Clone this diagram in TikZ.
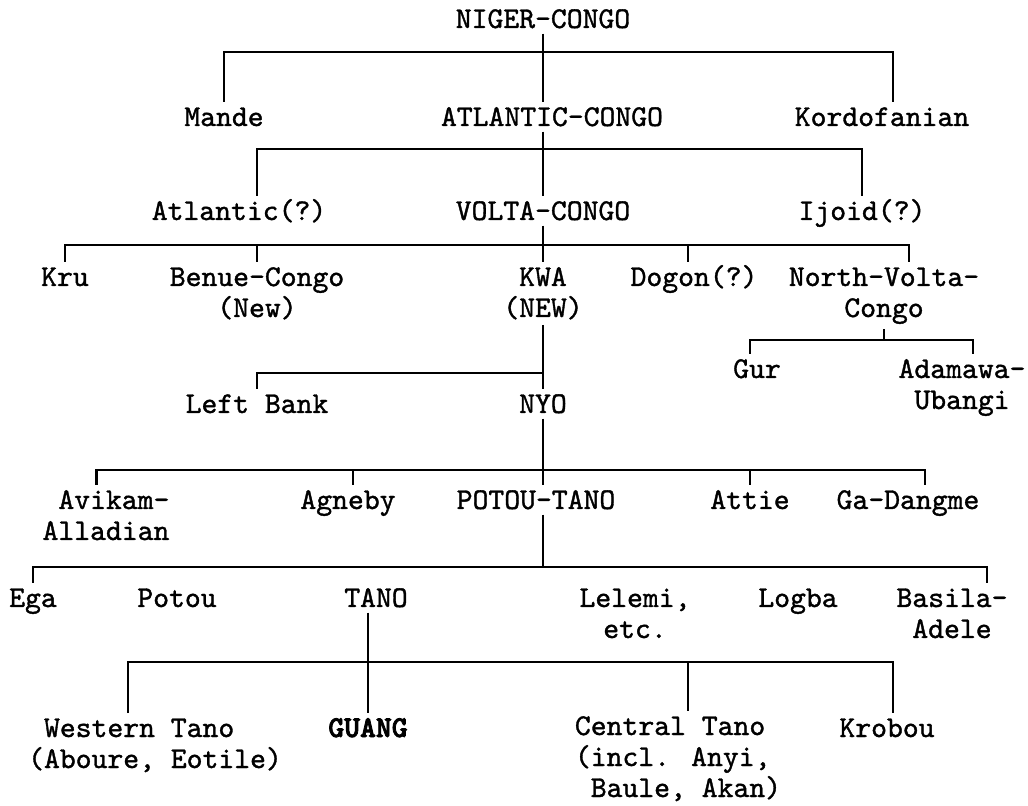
\documentclass[tikz,border=0pt]{standalone}
\usepackage{fontspec}
\usepackage{tikz}
\usetikzlibrary{calc}
\newfontfamily\typerfamily{lmmono10-regular.otf}[FakeBold=1.2, BoldFont=lmmonolt10-bold.otf, BoldFeatures={FakeBold=2.6}]
\newcommand{\langfont}{\typerfamily\fontsize{15.1pt}{15.5pt}\selectfont}

\begin{document}
\begin{tikzpicture}[x=0.5pt, y=-0.5pt,
    lang/.style={font=\langfont, anchor=base, align=center, inner xsep=0pt, inner ysep=2.5pt},
    one/.style={lang, text height=9.3pt},
    branch/.style={line width=1.2pt}]
    \useasboundingbox (0,0) rectangle (1028,806);

    % languages (several lines: placed at the baseline of the last line)
    \node[one] (ngc) at (543,28) {NIGER-CONGO};
    \node[one] (mande) at (224,126) {Mande};
    \node[one] (atlc) at (552,126) {ATLANTIC-CONGO};
    \node[one] (kordo) at (882,126) {Kordofanian};
    \node[one] (atlq) at (239,220) {Atlantic(?)};
    \node[one] (voltac) at (543,220) {VOLTA-CONGO};
    \node[one] (ijoid) at (862,220) {Ijoid(?)};
    \node[one] (kru) at (65,286) {Kru};
    \node[lang] (benue) at (257,317) {Benue-Congo\\(New)};
    \node[lang] (kwa) at (543,317) {KWA\\(NEW)};
    \node[one] (dogon) at (694,286) {Dogon(?)};
    \node[lang] (nvc) at (884,317) {North-Volta-\\Congo};
    \node[one] (gur) at (757,378) {Gur};
    \node[lang] (adam) at (962,409) {Adamawa-\\Ubangi};
    \node[one] (leftbank) at (257,413) {Left Bank};
    \node[one] (nyo) at (543,413) {NYO};
    \node[lang, align=left] (avikam) at (106,540) {\hphantom{A}Avikam-\\Alladian};
    \node[one] (agneby) at (348,509) {Agneby};
    \node[one] (pototano) at (536,509) {POTOU-TANO};
    \node[one] (attie) at (750,509) {Attie};
    \node[one] (gadangme) at (908,509) {Ga-Dangme};
    \node[one] (ega) at (33,607) {Ega};
    \node[one] (potou) at (177,607) {Potou};
    \node[one] (tano) at (376,607) {TANO};
    \node[lang] (lelemi) at (635,638) {Lelemi,\\etc.};
    \node[one] (logba) at (798,607) {Logba};
    \node[lang] (basila) at (952,638) {Basila-\\Adele};
    \node[lang, align=left] (western) at (155,768) {\hphantom{(}Western Tano\\(Aboure, Eotile)};
    \node[one, font=\langfont\bfseries] (guang) at (368,737) {GUANG};
    \node[lang, align=left] (central) at (678,797) {Central Tano\\(incl. Anyi,\\\hphantom{(}Baule, Akan)};
    \node[one] (krobou) at (887,737) {Krobou};

    % junctions on the bars
    \coordinate (ngc-j) at (543,52);
    \coordinate (atlc-j) at (543,149);
    \coordinate (voltac-j) at (543,245);
    \coordinate (nvc-j) at (884,340);
    \coordinate (kwa-j) at (543,373);
    \coordinate (nyo-j) at (543,470);
    \coordinate (pt-j) at (543,567);
    \coordinate (tano-j) at (368,662);

    \draw[branch] (ngc) -- (ngc |- atlc.north);
    \draw[branch] (mande.north) |- (ngc-j) -| ([xshift=5.5pt]kordo.north);

    \draw[branch] ([xshift=-4.5pt]atlc.south) -- (voltac.north);
    \draw[branch] ([xshift=9pt]atlq.north) |- (atlc-j) -| (ijoid.north);

    \draw[branch] (voltac) -- (kwa);
    \draw[branch] (kru.north) |- (voltac-j) -| ([xshift=12.5pt]nvc.north);
    \draw[branch] (benue.north) -- (benue.north |- voltac-j);
    \draw[branch] ([xshift=-3pt]dogon.north) -- ([xshift=-3pt]dogon.north |- voltac-j);

    \draw[branch] (nvc) -- (nvc-j);
    \draw[branch] ([xshift=-3.5pt]gur.north) |- (nvc-j) -| ([xshift=5.5pt]adam.north);

    \draw[branch] (kwa) -- (nyo);
    \draw[branch] (leftbank.north) |- (kwa-j);

    \draw[branch] (nyo) -- (nyo |- pototano.north);
    \draw[branch] ([xshift=-4.75pt]avikam.north) |- (nyo-j) -| ([xshift=8.5pt]gadangme.north);
    \draw[branch] ([xshift=2.5pt]agneby.north) -- ([xshift=2.5pt]agneby.north |- nyo-j);
    \draw[branch] (attie.north) -- (attie.north |- nyo-j);

    \draw[branch] ([xshift=3.5pt]pototano.south) -- (pt-j);
    \draw[branch] (ega.north) |- (pt-j) -| ([xshift=17.5pt]basila.north);

    \draw[branch] ([xshift=-4pt]tano.south) -- (guang.north);
    \draw[branch] ([xshift=-13.5pt]western.north) |- (tano-j) -| ([xshift=3pt]krobou.north);
    \draw[branch] ([xshift=5pt]central.north) -- ([xshift=5pt]central.north |- tano-j);
\end{tikzpicture}
\end{document}
